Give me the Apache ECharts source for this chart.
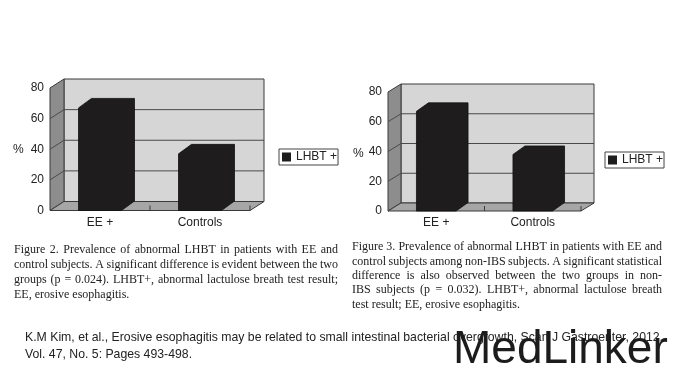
<!DOCTYPE html>
<html><head><meta charset="utf-8">
<script src="https://cdn.jsdelivr.net/npm/echarts@6/dist/echarts.min.js"></script>
<style>html,body{margin:0;padding:0;background:#fff}#c{width:680px;height:383px}</style>
</head><body><div id="c"></div>
<script>
// ---- data ----
const categories = ['EE +', 'Controls'];
const fig2Values = [67, 37];
const fig3Values = [67, 38];
const yTicks = [0, 20, 40, 60, 80];
const seriesName = 'LHBT +';
const yAxisName = '%';
const fig2Caption = [
  'Figure 2.  Prevalence of abnormal LHBT in patients with EE and',
  'control subjects. A significant difference is evident between the two',
  'groups (p = 0.024). LHBT+, abnormal lactulose breath test result;',
  'EE, erosive esophagitis.'
];
const fig3Caption = [
  'Figure 3.  Prevalence of abnormal LHBT in patients with EE and',
  'control subjects among non-IBS subjects. A significant statistical',
  'difference is also observed between the two groups in non-',
  'IBS subjects (p = 0.032). LHBT+, abnormal lactulose breath',
  'test result; EE, erosive esophagitis.'
];
const citation = [
  'K.M Kim, et al., Erosive esophagitis may be related to small intestinal bacterial overgrowth, Scan J Gastroenter, 2012,',
  'Vol. 47, No. 5: Pages 493-498.'
];
const watermark = 'MedLinker';

// ---- layout ----
const panels = [
  {values: fig2Values, left: 50, top: 88, width: 200, height: 122.5, dx: 14, dy: -9, barFrac: 0.43,
   legend: {left: 279, top: 149}, pct: [13, 150], labelMargin: 6},
  {values: fig3Values, left: 388, top: 92, width: 193, height: 119, dx: 13, dy: -8, barFrac: 0.41,
   legend: {left: 605, top: 152}, pct: [353, 154], labelMargin: 6}
];
const SANS = 'Liberation Sans, Arial, sans-serif';
const SERIF = 'Liberation Serif, Times New Roman, serif';

function bgRender(p) {
  return function (params, api) {
    const band = api.size([1, 0])[0];
    const c0 = api.coord([0, 0]);
    const x0 = c0[0] - band / 2, x1 = x0 + band * categories.length;
    const yb = c0[1], yt = api.coord([0, yTicks[yTicks.length - 1]])[1];
    const dx = p.dx, dy = p.dy;
    const stroke = '#3a3a3a';
    const ch = [
      {type: 'polygon', shape: {points: [[x0 + dx, yt + dy], [x1 + dx, yt + dy], [x1 + dx, yb + dy], [x0 + dx, yb + dy]]},
       style: {fill: '#d6d6d6', stroke: stroke, lineWidth: 1}},
      {type: 'polygon', shape: {points: [[x0, yt], [x0 + dx, yt + dy], [x0 + dx, yb + dy], [x0, yb]]},
       style: {fill: '#8d8d8d', stroke: stroke, lineWidth: 1}},
      {type: 'polygon', shape: {points: [[x0, yb], [x1, yb], [x1 + dx, yb + dy], [x0 + dx, yb + dy]]},
       style: {fill: '#a6a6a6', stroke: stroke, lineWidth: 1}}
    ];
    yTicks.forEach(function (v) {
      if (v === yTicks[0] || v === yTicks[yTicks.length - 1]) return;
      const y = api.coord([0, v])[1];
      ch.push({type: 'polyline', shape: {points: [[x0, y], [x0 + dx, y + dy], [x1 + dx, y + dy]]},
        style: {stroke: '#4a4a4a', lineWidth: 1, fill: null}});
    });
    for (let k = 1; k <= categories.length; k++) {
      const x = x0 + band * k;
      ch.push({type: 'line', shape: {x1: x, y1: yb, x2: x, y2: yb - 5}, style: {stroke: stroke, lineWidth: 1}});
    }
    return {type: 'group', children: ch};
  };
}
function barRender(p) {
  return function (params, api) {
    const cat = api.value(0), v = api.value(1);
    const base = api.coord([cat, 0]), top = api.coord([cat, v]);
    const w = api.size([1, 0])[0] * p.barFrac;
    const xl = base[0] - w / 2, xr = base[0] + w / 2;
    const dx = p.dx - 1, dy = p.dy - 0.5;
    return {type: 'polygon', shape: {points: [[xl, base[1]], [xl, top[1]], [xl + dx, top[1] + dy], [xr + dx, top[1] + dy], [xr + dx, base[1] + dy], [xr, base[1]]]},
      style: {fill: api.visual('color'), stroke: '#111', lineWidth: 0.8}};
  };
}

const grid = [], xAxis = [], yAxis = [], series = [], legend = [], graphic = [];
panels.forEach(function (p, i) {
  grid.push({left: p.left, top: p.top, width: p.width, height: p.height, containLabel: false});
  xAxis.push({type: 'category', gridIndex: i, data: categories, axisLine: {show: false}, axisTick: {show: false},
    axisLabel: {margin: p.labelMargin, fontSize: 12, color: '#222', fontFamily: SANS}, splitLine: {show: false}});
  yAxis.push({type: 'value', gridIndex: i, min: yTicks[0], max: yTicks[yTicks.length - 1], interval: yTicks[1] - yTicks[0],
    axisLine: {show: false}, axisTick: {show: false}, splitLine: {show: false},
    axisLabel: {margin: 6, fontSize: 12, color: '#222', fontFamily: SANS}});
  series.push({type: 'custom', xAxisIndex: i, yAxisIndex: i, silent: true, z: 1, renderItem: bgRender(p), data: [[0, 0]], tooltip: {show: false}});
  series.push({type: 'custom', name: seriesName, xAxisIndex: i, yAxisIndex: i, z: 3, renderItem: barRender(p),
    itemStyle: {color: '#1e1c1d'}, data: p.values.map(function (v, k) { return [k, v]; })});
  legend.push({data: [seriesName], left: p.legend.left, top: p.legend.top, icon: 'rect', itemWidth: 9, itemHeight: 9,
    selectedMode: false, borderColor: '#444', borderWidth: 1, padding: [2, 1, 2, 3],
    textStyle: {fontSize: 12, color: '#222', fontFamily: SANS}});
  graphic.push({type: 'text', x: p.pct[0], y: p.pct[1], style: {text: yAxisName, font: '12px ' + SANS, fill: '#222', verticalAlign: 'middle'}});
});

// justified caption text
const ctx = document.createElement('canvas').getContext('2d');
function justified(lines, x, y0, width, lh, font, color) {
  ctx.font = font;
  lines.forEach(function (line, li) {
    const y = y0 + li * lh;
    if (li === lines.length - 1) {
      graphic.push({type: 'text', x: x, y: y, style: {text: line, font: font, fill: color, verticalAlign: 'middle'}});
      return;
    }
    const words = line.split(/\s+/);
    const ws = words.map(function (w) { return ctx.measureText(w).width; });
    const total = ws.reduce(function (a, b) { return a + b; }, 0);
    const gap = (width - total) / (words.length - 1);
    let cx = x;
    words.forEach(function (w, k) {
      graphic.push({type: 'text', x: cx, y: y, style: {text: w, font: font, fill: color, verticalAlign: 'middle'}});
      cx += ws[k] + gap;
    });
  });
}
justified(fig2Caption, 14, 250, 324, 15, '12px ' + SERIF, '#222');
justified(fig3Caption, 352, 247, 310, 14.4, '12px ' + SERIF, '#222');

const citeFont = '13px ' + SANS;
ctx.font = citeFont;
const citeScale = 638 / ctx.measureText(citation[0]).width;
citation.forEach(function (t, k) {
  graphic.push({type: 'text', x: 25, y: 337 + k * 17, scaleX: citeScale, style: {text: t, font: citeFont, fill: '#222', verticalAlign: 'middle'}});
});
graphic.push({type: 'text', x: 453, y: 350, z: 10, style: {text: watermark, font: '46px ' + SANS, fill: '#1c1c1c', verticalAlign: 'middle'}});

const chart = echarts.init(document.getElementById('c'), null, {renderer: 'canvas'});
chart.setOption({animation: false, backgroundColor: '#fff', grid: grid, xAxis: xAxis, yAxis: yAxis, series: series, legend: legend, graphic: graphic});
</script></body></html>
